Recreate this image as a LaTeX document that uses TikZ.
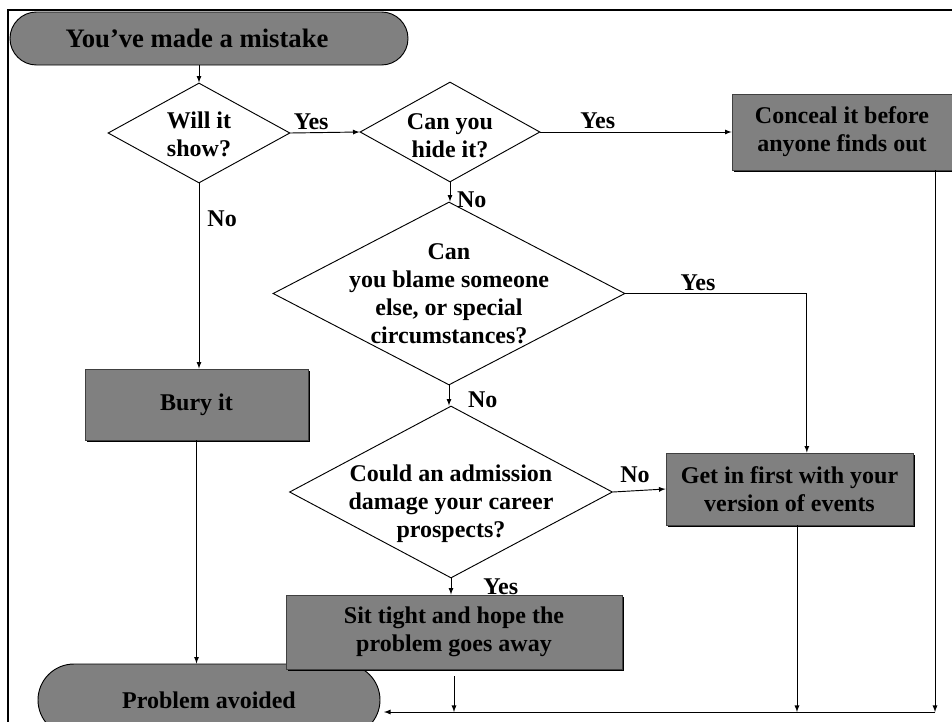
\documentclass[tikz,border=0pt]{standalone}
\usepackage{fontspec}
\setmainfont{Liberation Serif}
\usepackage{tikz}
\usetikzlibrary{positioning}
\usetikzlibrary{shapes.geometric,shapes.misc}
\usetikzlibrary{shadows}
\tikzset{
  every node/.style={font=\bfseries\fontsize{18}{21}\selectfont},
  qtext/.style={align=center,inner sep=0},
  decision/.style={shape=diamond,draw=black,fill=white,inner sep=0,line width=0.7pt},
  process/.style={shape=rectangle,draw=black!75,fill=gray,inner sep=0,align=center,line width=0.7pt,
    drop shadow={shadow xshift=1.3pt,shadow yshift=-1.3pt,fill=black,opacity=1}},
  terminal/.style={shape=rounded rectangle,draw=black,fill=gray,inner sep=0,line width=0.7pt},
  answer/.style={inner sep=2pt},
  flow/.style={draw=black,line width=0.7pt,-latex}
}
\begin{document}
\begin{tikzpicture}[x=0.75pt,y=-0.75pt]
  \useasboundingbox (0,0) rectangle (952,721);
  \clip (0,0) rectangle (952,721);
  \draw[line width=1.5pt] (8,10) rectangle (964,733);
  \node[terminal,minimum width=298.5pt,minimum height=39.75pt,font=\bfseries\fontsize{20}{24}\selectfont] (start) at (209,38.5) {\hspace*{-18pt}You’ve made a mistake};
  \node[decision,minimum width=136.5pt,minimum height=75pt,label={[qtext,yshift=-1pt]center:{Will it\\show?}}] (show) at (199,133) {};
  \node[decision,minimum width=135pt,minimum height=75pt,label={[qtext,yshift=-3pt]center:{Can you\\hide it?}}] (hide) at (450,132) {};
  \node[decision,minimum width=264pt,minimum height=137.25pt,label={[qtext]center:{Can\\you blame someone\\else, or special\\circumstances?}}] (blame) at (449,293.5) {};
  \node[decision,minimum width=242.25pt,minimum height=129pt,label={[qtext,yshift=-9pt]center:{Could an admission\\damage your career\\prospects?}}] (career) at (451,492) {};
  \node[process,minimum width=165pt,minimum height=57pt] (conceal) at (842,132) {Conceal it before\\anyone finds out};
  \node[process,minimum width=185.25pt,minimum height=54pt] (first) at (789.5,489) {Get in first with your\\version of events};
  \node[process,minimum width=167.25pt,minimum height=53.25pt] (bury) at (196.5,404.5) {Bury it};
  \node[terminal,minimum width=256.5pt,minimum height=54pt] (avoided) at (209,700) {Problem avoided};
  \node[process,minimum width=252pt,minimum height=55.5pt] (sit) at (454,632) {Sit tight and hope the\\problem goes away};
  \coordinate (busR) at (935,712);
  \coordinate (busL) at (384,712);

  \draw[flow] (show.north |- start.south) -- (show.north);
  \draw[flow] (show.east) -- node[answer,above,pos=0.3]{Yes} (hide.west);
  \draw[flow] (hide.east) -- node[answer,above,pos=0.3]{Yes} (conceal.west);
  \draw[flow] (hide.south) -- node[answer,right=3pt,pos=0.9]{No} (hide.south |- blame.north);
  \draw[flow] (blame.east) -| node[answer,above,pos=0.2]{Yes} ([xshift=13pt]first.north);
  \draw[flow] (blame.south) -- node[answer,right=12pt,pos=0.7]{No} (blame.south |- career.north);
  \draw[flow] (career.east) -- node[answer,above=4pt,pos=0.42]{No} (first.west);
  \draw[flow] (career.south) -- node[answer,right=22pt,pos=0.5]{Yes} (career.south |- sit.north);
  \draw[flow] (show.south) -- node[answer,right=4pt,pos=0.19]{No} (show.south |- bury.north);
  \draw[flow] (bury.south) -- (bury.south |- avoided.north);
  \draw[flow] ([yshift=-5pt]sit.south) -- (sit.south |- busR);
  \draw[flow] ([xshift=5.6pt]first.south) -- ([xshift=5.6pt]first.south |- busR);
  \draw[flow] (conceal.south -| busR) -- (busR);
  \draw[flow] (busR) -- (busL);
\end{tikzpicture}
\end{document}
